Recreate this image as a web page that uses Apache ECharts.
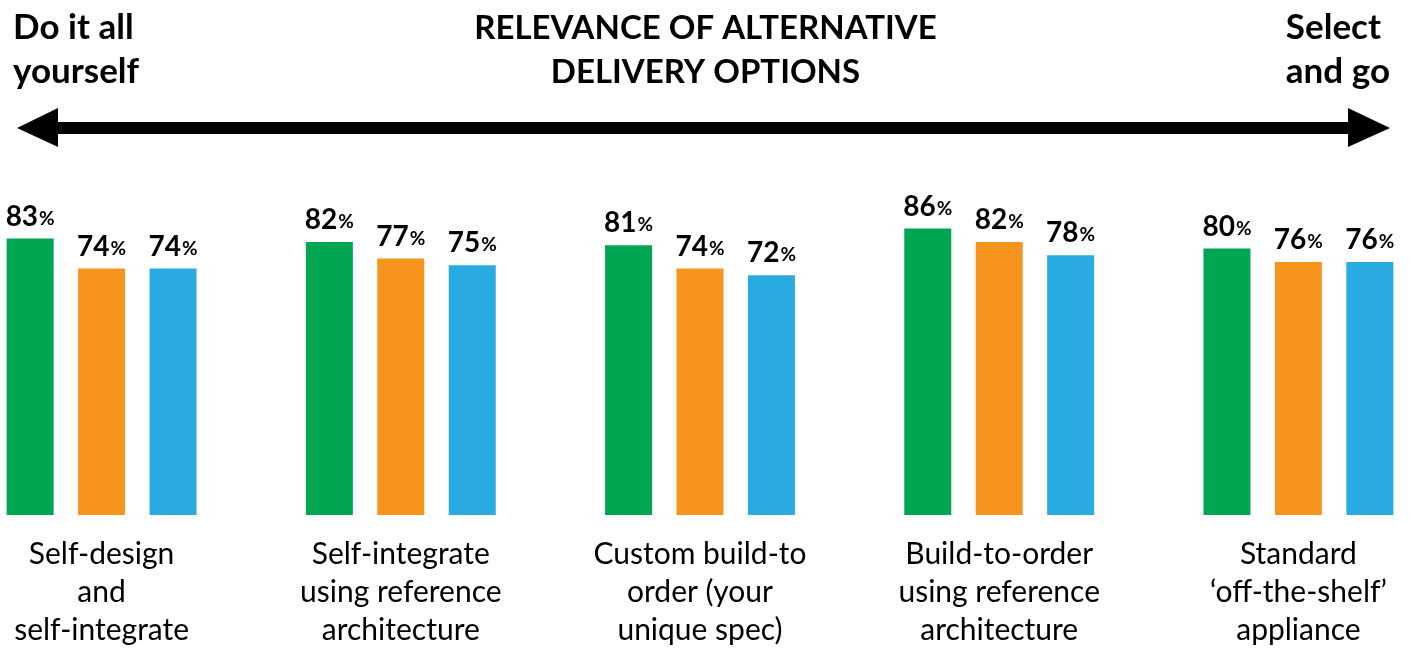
<!DOCTYPE html>
<html>
<head>
<meta charset="utf-8">
<script src="https://cdn.jsdelivr.net/npm/echarts@6/dist/echarts.min.js"></script>
<style>
  html, body { margin: 0; padding: 0; background: #fff; }
  #main { width: 1411px; height: 648px; }
</style>
</head>
<body>
<div id="main"></div>
<script>
// categories
var categories = [
  'Self-design\nand\nself-integrate',
  'Self-integrate\nusing reference\narchitecture',
  'Custom build-to\norder (your\nunique spec)',
  'Build-to-order\nusing reference\narchitecture',
  'Standard\n\u2018off-the-shelf\u2019\nappliance'
];
// three series, no legend in the picture
var greenVals = [83, 82, 81, 86, 80];
var orangeVals = [74, 77, 74, 82, 76];
var blueVals = [74, 75, 72, 78, 76];

var font = 'Lato';

var chart = echarts.init(document.getElementById('main'));

function barSeries(name, data, color) {
  return {
    name: name,
    type: 'bar',
    data: data,
    barWidth: 47,
    barGap: '52%',
    itemStyle: { color: color },
    label: {
      show: true,
      position: 'top',
      distance: 8,
      formatter: '{n|{c}}{p|%}',
      rich: {
        n: { fontFamily: font, fontWeight: 'bold', fontSize: 28, color: '#000' },
        p: { fontFamily: font, fontWeight: 'bold', fontSize: 19, color: '#000', padding: [4, 0, 0, 1] }
      }
    }
  };
}

var titleText = { fontFamily: font, fontWeight: 'bold', fontSize: 33, lineHeight: 44, color: '#000' };

var option = {
  animation: false,
  title: [{
    text: 'RELEVANCE OF ALTERNATIVE\nDELIVERY OPTIONS',
    left: 'center',
    top: 1,
    textStyle: titleText
  }, {
    text: 'Do it all\nyourself',
    left: 8,
    top: 1,
    textStyle: { fontFamily: font, fontWeight: 'bold', fontSize: 35, lineHeight: 44, color: '#000' }
  }, {
    text: 'Select\nand go',
    right: 16,
    top: 1,
    textStyle: { fontFamily: font, fontWeight: 'bold', fontSize: 35, lineHeight: 44, color: '#000', align: 'right' }
  }],
  // the double-headed arrow under the title
  graphic: [{
    type: 'rect',
    shape: { x: 50, y: 122, width: 1306, height: 12 },
    style: { fill: '#000' }
  }, {
    type: 'polygon',
    shape: { points: [[17, 128], [58, 108], [58, 147]] },
    style: { fill: '#000' }
  }, {
    type: 'polygon',
    shape: { points: [[1390, 128], [1348, 108], [1348, 147]] },
    style: { fill: '#000' }
  }],
  grid: { left: -48, right: -37, top: 182, bottom: 133, outerBoundsMode: 'none', containLabel: false },
  xAxis: {
    type: 'category',
    data: categories,
    axisLine: { show: false },
    axisTick: { show: false },
    axisLabel: {
      interval: 0,
      margin: 20,
      fontFamily: font,
      fontSize: 30,
      lineHeight: 38,
      color: '#000'
    }
  },
  yAxis: {
    type: 'value',
    min: 0,
    max: 100,
    show: false,
    splitLine: { show: false }
  },
  series: [
    barSeries('A', greenVals, '#00a651'),
    barSeries('B', orangeVals, '#f7941d'),
    barSeries('C', blueVals, '#29abe2')
  ]
};

chart.setOption(option);
</script>
</body>
</html>
